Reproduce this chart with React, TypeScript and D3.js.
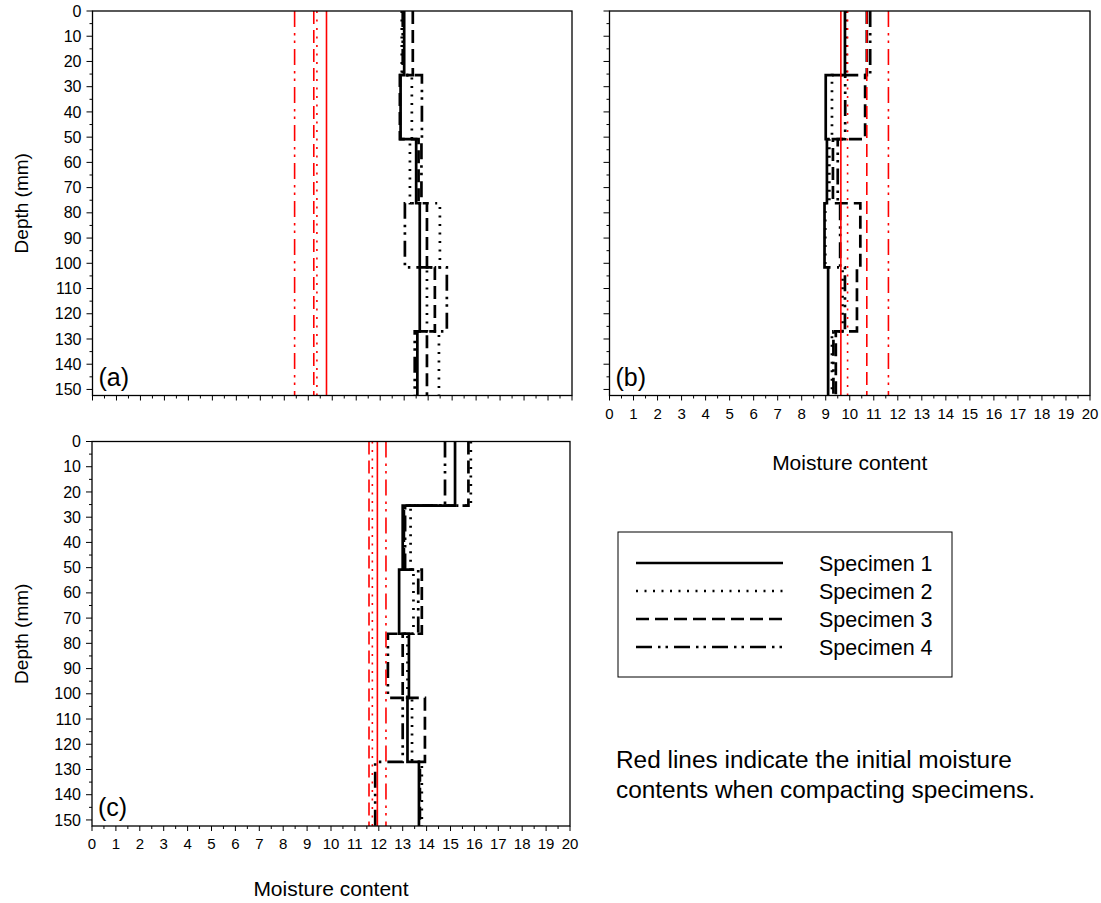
import * as d3 from "d3";

// layer boundaries (mm) – specimens were sampled in 6 slices of 25.4 mm
const layerDepths = [0, 25.4, 50.8, 76.2, 101.6, 127, 152.4];
const depthTickLabels = [0, 10, 20, 30, 40, 50, 60, 70, 80, 90, 100, 110, 120, 130, 140, 150];
const moistureTickLabels = [0, 1, 2, 3, 4, 5, 6, 7, 8, 9, 10, 11, 12, 13, 14, 15, 16, 17, 18, 19, 20];
const specimenNames = ["Specimen 1", "Specimen 2", "Specimen 3", "Specimen 4"];

// panel (a)
const a1 = [13.0, 12.85, 13.5, 13.65, 13.65, 13.55];
const a2 = [12.9, 13.32, 13.24, 14.49, 13.95, 14.45];
const a3 = [13.36, 12.82, 13.6, 13.95, 14.28, 13.95];
const a4 = [12.94, 13.74, 13.72, 13.03, 14.78, 13.44];
const aInitial = [9.76, 9.36, 9.23, 8.43];

// panel (b)
const b1 = [9.8, 9.0, 9.05, 8.95, 9.1, 9.1];
const b2 = [9.85, 9.26, 9.15, 8.98, 9.7, 9.26];
const b3 = [10.71, 10.64, 9.3, 10.44, 10.3, 9.42];
const b4 = [10.85, 9.81, 9.5, 9.6, 9.8, 9.32];
const bInitial = [9.63, 9.91, 10.71, 11.61];

// panel (c)
const c1 = [15.19, 13.0, 12.85, 13.26, 13.2, 13.68];
const c2 = [15.85, 13.33, 13.45, 13.2, 13.39, 13.8];
const c3 = [15.75, 13.05, 13.8, 13.0, 13.93, 13.72];
const c4 = [14.77, 13.1, 13.65, 12.38, 13.0, 11.85];
const cInitial = [11.94, 11.73, 11.59, 12.3];

const FONT = "Liberation Sans, Arial, sans-serif";
const dashes = [null, "2,6.5", "13,6", "16,6,2.5,5,2.5,6"];

type PanelProps = {
  xr: [number, number];
  yr: [number, number];
  series: number[][];
  initial: number[];
  tag: string;
  yLabels: boolean;
  xLabels: boolean;
  titleY?: number;
};

function Panel({ xr, yr, series, initial, tag, yLabels, xLabels, titleY }: PanelProps) {
  const x = d3.scaleLinear().domain([0, 20]).range(xr);
  const y = d3.scaleLinear().domain([0, 152.4]).range(yr);
  const line = d3.line<[number, number]>().x(d => x(d[0])).y(d => y(d[1]));

  // vertical segment per slice, horizontal jumps at slice boundaries
  const stepPath = (vals: number[]) =>
    line(vals.flatMap((v, i) => [[v, layerDepths[i]], [v, layerDepths[i + 1]]] as [number, number][]));

  const xMinor = d3.range(0, 20.001, 0.5);
  const yMinor = d3.range(0, 151, 5);

  return (
    <g>
      {series.map((vals, i) => (
        <path key={"s" + i} d={stepPath(vals) || ""} fill="none" stroke="black" strokeWidth={2.7}
          strokeDasharray={dashes[i] || undefined} />
      ))}
      {initial.map((v, i) => (
        <path key={"r" + i} d={line([[v, 0], [v, 152.4]]) || ""} fill="none" stroke="red" strokeWidth={1.6}
          strokeDasharray={dashes[i] || undefined} />
      ))}
      <rect x={xr[0]} y={yr[0]} width={xr[1] - xr[0]} height={yr[1] - yr[0]} fill="none" stroke="black" strokeWidth={1.3} />
      {xMinor.map(t => (
        <line key={"xt" + t} x1={x(t)} x2={x(t)} y1={yr[1]} y2={yr[1] + (t % 1 === 0 ? 5 : 3)} stroke="black" />
      ))}
      {yMinor.map(t => (
        <line key={"yt" + t} x1={xr[0]} x2={xr[0] - (t % 10 === 0 ? 6 : 3)} y1={y(t)} y2={y(t)} stroke="black" />
      ))}
      {yLabels && depthTickLabels.map(t => (
        <text key={"yl" + t} x={xr[0] - 11} y={y(t)} dy="0.35em" textAnchor="end" fontSize={16} fontFamily={FONT}>{t}</text>
      ))}
      {yLabels && (
        <text transform={`translate(28,${(yr[0] + yr[1]) / 2}) rotate(-90)`} textAnchor="middle" fontSize={19} fontFamily={FONT}>Depth (mm)</text>
      )}
      {xLabels && moistureTickLabels.map(t => (
        <text key={"xl" + t} x={x(t)} y={yr[1] + 23} textAnchor="middle" fontSize={15} fontFamily={FONT}>{t}</text>
      ))}
      {titleY !== undefined && (
        <text x={(xr[0] + xr[1]) / 2} y={titleY} textAnchor="middle" fontSize={21} fontFamily={FONT}>Moisture content</text>
      )}
      <text x={xr[0] + 6} y={yr[1] - 10} fontSize={25} fontFamily={FONT}>{tag}</text>
    </g>
  );
}

function Legend() {
  const rows = d3.scaleBand<string>().domain(specimenNames).range([549, 661]);
  return (
    <g>
      <rect x={618} y={532} width={334} height={145} fill="white" stroke="black" strokeWidth={1} />
      {specimenNames.map((name, i) => {
        const cy = (rows(name) || 0) + rows.bandwidth() / 2;
        return (
          <g key={name}>
            <line x1={636} x2={783} y1={cy} y2={cy} stroke="black" strokeWidth={2.7} strokeDasharray={dashes[i] || undefined} />
            <text x={819} y={cy} dy="0.35em" fontSize={21.5} fontFamily={FONT}>{name}</text>
          </g>
        );
      })}
    </g>
  );
}

export default function App() {
  return (
    <svg width={1101} height={903} style={{ position: "absolute", left: 0, top: 0, background: "white" }}>
      <Panel xr={[92.5, 572]} yr={[11, 395.5]} series={[a1, a2, a3, a4]} initial={aInitial} tag="(a)"
        yLabels={true} xLabels={false} />
      <Panel xr={[609.5, 1090]} yr={[11, 395.5]} series={[b1, b2, b3, b4]} initial={bInitial} tag="(b)"
        yLabels={false} xLabels={true} titleY={470} />
      <Panel xr={[92, 570]} yr={[441.5, 826]} series={[c1, c2, c3, c4]} initial={cInitial} tag="(c)"
        yLabels={true} xLabels={true} titleY={896} />
      <Legend />
      <text x={616} y={768} fontSize={24.4} fontFamily={FONT}>Red lines indicate the initial moisture</text>
      <text x={616} y={798} fontSize={24.4} fontFamily={FONT}>contents when compacting specimens.</text>
    </svg>
  );
}
